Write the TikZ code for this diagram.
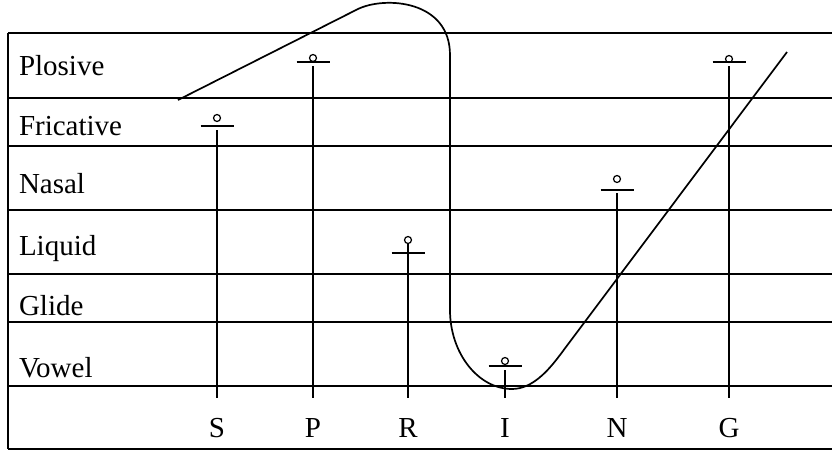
\documentclass[tikz,border=0pt]{standalone}
\usepackage{fontspec}
\setmainfont{Liberation Serif}

\begin{document}
\begin{tikzpicture}[x=0.5pt,y=-0.5pt,line width=1pt,
  rowlabel/.style={anchor=base west,inner sep=0pt,font=\fontsize{14.5}{17}\selectfont},
  letter/.style={anchor=base,inner sep=0pt,font=\fontsize{14.5}{17}\selectfont},
  crossbar/.style={line width=0.75pt},
  knob/.style={line width=0.6pt},
  contour/.style={line width=0.85pt,line join=round}]
\useasboundingbox (0,0) rectangle (832,450);
% grid of manner classes
\draw (8,33) -- (8,449);
\foreach \y in {33,98,146,210,274,322,386,449}
  \draw (8,\y) -- (832,\y);
\foreach \name/\y in {Plosive/75,Fricative/135,Nasal/193,Liquid/255,Glide/315,Vowel/377}
  \node[rowlabel] (row-\name) at (18,\y) {\name};
% segments with their markers
\foreach \l/\x/\c/\b/\s in {S/217/118/126/130,P/313/58/62/66,R/408/240/253/244,I/505/361/366/370,N/617/179/190/193,G/729/59/62/66}{
  \node[letter] (seg-\l) at (\x,437) {\l};
  \coordinate (top-\l) at (\x,\s);
  \coordinate (foot-\l) at (\x,398);
  \draw (top-\l) -- (foot-\l);
  \draw[crossbar] (\x-16.5,\b) -- (\x+16.5,\b);
  \draw[knob] (\x,\c) circle[radius=1.75pt];
}
% sonority contour
\draw[contour] (178,100) -- (358,9) .. controls (385,-4) and (450,0) .. (450,55)
  -- (450,310) .. controls (450,353) and (478,389) .. (512,389)
  .. controls (532,389) and (548,371) .. (560,355) -- (787,52);
\end{tikzpicture}
\end{document}
